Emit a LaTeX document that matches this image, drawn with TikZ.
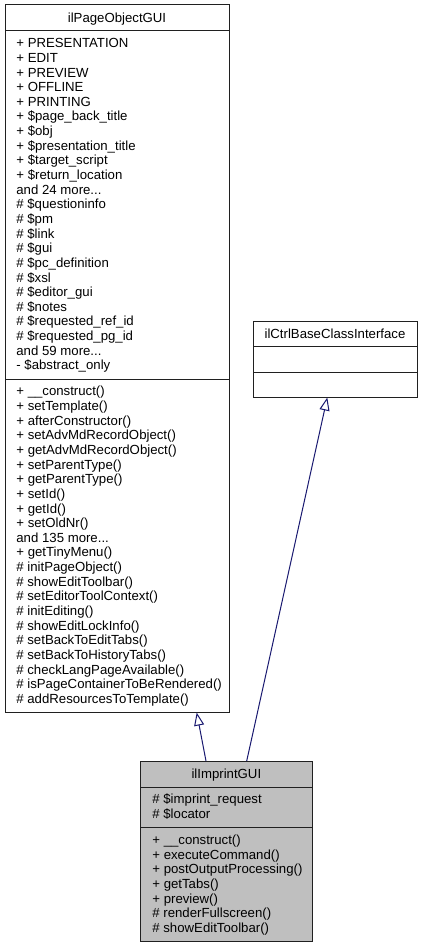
\documentclass[tikz,border=0pt]{standalone}
\usepackage{fontspec}
\setmainfont{Liberation Sans}
\usetikzlibrary{arrows.meta}
\definecolor{edgeblue}{HTML}{191970}
\definecolor{focusgray}{HTML}{BFBFBF}
\definecolor{boxline}{HTML}{202020}
\newcommand\mydots{...}
\begin{document}
\begin{tikzpicture}[x=1pt,y=-1pt,
  classbox/.style={draw=boxline, line width=1pt, fill=white, rectangle, anchor=north west, inner sep=0pt, outer sep=0pt},
  sepline/.style={draw=boxline, line width=1pt},
  titletext/.style={anchor=base, inner sep=0pt, font=\fontsize{13.2}{14.64}\selectfont},
  membertext/.style={anchor=base west, inner sep=0pt, font=\fontsize{13.2}{14.64}\selectfont},
  inh/.style={draw=edgeblue, line width=1pt, -{Triangle[length=13pt,width=10pt,fill=white]}}
]
\useasboundingbox (0,0) rectangle (423,947);

% ilPageObjectGUI
\node[classbox, minimum width=224pt, minimum height=707.6pt] (pog) at (5,5) {};
\draw[sepline] ([yshift=-26pt]pog.north west) -- ([yshift=-26pt]pog.north east);
\draw[sepline] ([yshift=-374.1pt]pog.north west) -- ([yshift=-374.1pt]pog.north east);
\node[titletext] (pogt) at ([yshift=-17.4pt]pog.north) {ilPageObjectGUI};
\foreach \t [count=\i from 0] in {%
  + PRESENTATION, + EDIT, + PREVIEW, + OFFLINE, + PRINTING,
  + \$page\_back\_title, + \$obj, + \$presentation\_title, + \$target\_script,
  + \$return\_location, and 24 more\mydots, \# \$questioninfo, \# \$pm, \# \$link,
  \# \$gui, \# \$pc\_definition, \# \$xsl, \# \$editor\_gui, \# \$notes,
  \# \$requested\_ref\_id, \# \$requested\_pg\_id, and 59 more\mydots, - \$abstract\_only}
  \node[membertext] (poga\i) at (16.2, {47.8+\i*14.64}) {\t};
\foreach \t [count=\i from 0] in {%
  + \_\_construct(), + setTemplate(), + afterConstructor(), + setAdvMdRecordObject(),
  + getAdvMdRecordObject(), + setParentType(), + getParentType(), + setId(),
  + getId(), + setOldNr(), and 135 more\mydots, + getTinyMenu(), \# initPageObject(),
  \# showEditToolbar(), \# setEditorToolContext(), \# initEditing(),
  \# showEditLockInfo(), \# setBackToEditTabs(), \# setBackToHistoryTabs(),
  \# checkLangPageAvailable(), \# isPageContainerToBeRendered(),
  \# addResourcesToTemplate()}
  \node[membertext] (pogm\i) at (16.2, {395.9+\i*14.64}) {\t};

% ilCtrlBaseClassInterface
\node[classbox, minimum width=164pt, minimum height=76.5pt] (ctrl) at (253,321) {};
\draw[sepline] ([yshift=-25.5pt]ctrl.north west) -- ([yshift=-25.5pt]ctrl.north east);
\draw[sepline] ([yshift=-51pt]ctrl.north west) -- ([yshift=-51pt]ctrl.north east);
\node[titletext] (ctrlt) at ([yshift=-17.2pt]ctrl.north) {ilCtrlBaseClassInterface};

% ilImprintGUI
\node[classbox, fill=focusgray, minimum width=171.3pt, minimum height=180.5pt] (imp) at (140.7,761) {};
\draw[sepline] ([yshift=-26pt]imp.north west) -- ([yshift=-26pt]imp.north east);
\draw[sepline] ([yshift=-66.7pt]imp.north west) -- ([yshift=-66.7pt]imp.north east);
\node[titletext] (impt) at ([yshift=-17.2pt]imp.north) {ilImprintGUI};
\foreach \t [count=\i from 0] in {\# \$imprint\_request, \# \$locator}
  \node[membertext] (impa\i) at (152.2, {803.8+\i*14.64}) {\t};
\foreach \t [count=\i from 0] in {%
  + \_\_construct(), + executeCommand(), + postOutputProcessing(), + getTabs(),
  + preview(), \# renderFullscreen(), \# showEditToolbar()}
  \node[membertext] (impm\i) at (152.2, {844.5+\i*14.64}) {\t};

% inheritance
\draw[inh] ([xshift=65.3pt]imp.north west) -- ([xshift=191.7pt]pog.south west);
\draw[inh] ([xshift=106pt]imp.north west) -- ([xshift=74.3pt]ctrl.south west);
\end{tikzpicture}
\end{document}
